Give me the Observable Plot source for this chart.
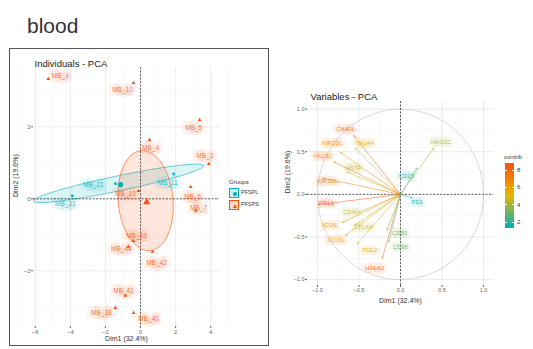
<!DOCTYPE html>
<html><head><meta charset="utf-8">
<script src="https://cdn.jsdelivr.net/npm/d3@7"></script>
<script src="https://cdn.jsdelivr.net/npm/@observablehq/plot@0.6"></script>
<style>
body{margin:0;background:#fff;font-family:"Liberation Sans",Arial,sans-serif;}
#page{position:relative;width:533px;height:349px;overflow:hidden;}
.abs{position:absolute;}
.sm{font-size:6px;color:#333;line-height:1;white-space:nowrap;}
</style></head><body><div id="page"></div>
<script>
// ---------- Individuals (left panel) ----------
const indNames = ["MB_9","MB_10","MB_5","MB_4","MB_3","MB_19","MB_6","MB_7","MB_43","MB_44","MB_42","MB_41","MB_38","MB_40","MB_21","MB_11","MB_31"];
const indGroup = ["PFSPS","PFSPS","PFSPS","PFSPS","PFSPS","PFSPS","PFSPS","PFSPS","PFSPS","PFSPS","PFSPS","PFSPS","PFSPS","PFSPS","PFSPL","PFSPL","PFSPL"];
const dim1 = [-5.26,-0.40,3.37,0.51,3.89,-0.11,2.86,3.14,-0.40,-0.69,0.69,-0.86,-1.43,-0.40,-1.43,1.89,-3.89];
const dim2 = [3.33,3.22,2.19,1.64,0.97,0.22,0.33,-0.33,-1.17,-1.33,-1.47,-2.69,-3.03,-3.17,0.42,0.69,0.08];
const lblX = [-4.57,-1.03,3.03,0.57,3.66,-0.86,2.97,3.31,-0.23,-1.09,0.91,-0.97,-2.23,0.46,-2.69,1.54,-4.29];
const lblY = [3.42,3.03,1.97,1.42,1.19,0.14,0.06,-0.25,-1.03,-1.39,-1.78,-2.56,-3.17,-3.33,0.39,0.44,-0.14];
const groups = ["PFSPL","PFSPS"];
const groupColors = ["#00AFBB","#FC4E07"];
const groupSymbols = ["circle","triangle"];
// concentration ellipses: centre, first and second semi-axis vectors (data units)
const ellGroup = ["PFSPL","PFSPS"];
const ellCx = [-1.25, 0.29];
const ellCy = [0.43, -0.05];
const ellAx = [4.85, -0.29];
const ellAy = [0.49, 1.39];
const ellBx = [-0.04, 1.55];
const ellBy = [0.21, 0.10];
const indXTicks = [-6,-4,-2,0,2,4];
const indYTicks = [-2,0,2];

// ---------- Variables (right panel) ----------
const varNames = ["OX40L","NKp44","KIR2DL","NKp30","VISTA","KIR3DL","PDL1","CD40","ICOS","CTLA4","ICOSL","PDL2","HHLA2","CD80","CD86","NKG2C","CD28","PD1"];
const varX = [-0.56,-0.54,-0.72,-0.80,-0.64,-0.93,-0.99,-0.50,-0.70,-0.55,-0.66,-0.52,-0.22,-0.16,-0.14,0.40,0.20,0.14];
const varY = [0.69,0.54,0.49,0.38,0.26,0.19,-0.12,-0.21,-0.33,-0.36,-0.48,-0.58,-0.75,-0.42,-0.56,0.54,0.31,-0.04];
const varContrib = [8.0,5.5,6.5,7.0,4.5,7.2,8.8,4.5,6.5,4.6,6.0,5.6,8.0,3.0,3.2,4.2,2.0,1.3];
const varLX = [-0.66,-0.43,-0.82,-0.94,-0.57,-0.88,-0.89,-0.60,-0.85,-0.45,-0.77,-0.37,-0.31,-0.01,0.00,0.49,0.07,0.20];
const varLY = [0.77,0.60,0.60,0.45,0.31,0.15,-0.10,-0.21,-0.36,-0.39,-0.54,-0.66,-0.87,-0.46,-0.62,0.61,0.21,-0.09];
const varTicks = [-1,-0.5,0,0.5,1];
const contribTicks = [2,4,6,8];
const gradCols = ["#00AFBB","#E7B800","#FC4E07"];

const font = "Liberation Sans, Arial, sans-serif";
const page = document.getElementById("page");
function addDiv(html, css, cls){const d=document.createElement("div");d.className="abs "+(cls||"");d.innerHTML=html;Object.assign(d.style,css);page.appendChild(d);return d;}

// title
addDiv("blood",{left:"27px",top:"15px",fontSize:"21px",lineHeight:"1",color:"#333"});
// left frame
addDiv("",{left:"9px",top:"48px",width:"258px",height:"296px",border:"1px solid #555"});

const ind = indNames.map((n,i)=>({name:n, group:indGroup[i], x:dim1[i], y:dim2[i], lx:lblX[i], ly:lblY[i]}));
const ell = [];
ellGroup.forEach((g,k)=>{
  for(let i=0;i<=90;i++){
    const t=i/90*2*Math.PI;
    ell.push({group:g, x:ellCx[k]+Math.cos(t)*ellAx[k]+Math.sin(t)*ellBx[k], y:ellCy[k]+Math.cos(t)*ellAy[k]+Math.sin(t)*ellBy[k]});
  }
});
const cent = groups.map(g=>{const p=ind.filter(d=>d.group===g);return {group:g,x:d3.mean(p,d=>d.x),y:d3.mean(p,d=>d.y)};});
const minorX = d3.range(-7,6,1).filter(v=>v%2!==0);
const minorY = [-3,-1,1,3];

const left = Plot.plot({
  width:258, height:296, marginLeft:23, marginRight:49, marginTop:18, marginBottom:19,
  style:{fontFamily:font, background:"transparent", overflow:"visible"},
  x:{domain:[-6.1,4.5], axis:null}, y:{domain:[-3.55,3.65], axis:null},
  color:{domain:groups, range:groupColors},
  symbol:{domain:groups, range:groupSymbols},
  marks:[
    Plot.gridX(minorX,{stroke:"#f3f3f3",strokeOpacity:1,strokeWidth:0.6}),
    Plot.gridY(minorY,{stroke:"#f3f3f3",strokeOpacity:1,strokeWidth:0.6}),
    Plot.gridX(indXTicks,{stroke:"#e6e6e6",strokeOpacity:1,strokeWidth:0.8}),
    Plot.gridY(indYTicks,{stroke:"#e6e6e6",strokeOpacity:1,strokeWidth:0.8}),
    Plot.line(ell,{x:"x",y:"y",z:"group",stroke:"group",fill:"group",fillOpacity:0.14,strokeWidth:0.7,strokeOpacity:0.85}),
    Plot.ruleX([0],{stroke:"#222",strokeDasharray:"2,1.5",strokeWidth:0.7}),
    Plot.ruleY([0],{stroke:"#222",strokeDasharray:"2,1.5",strokeWidth:0.7}),
    Plot.text(ind,{x:"lx",y:"ly",text:"name",fill:"group",fillOpacity:0.8,stroke:"group",strokeOpacity:0.08,strokeWidth:8,fontSize:6.5}),
    Plot.dot(ind,{x:"x",y:"y",fill:"group",symbol:"group",r:1.4}),
    Plot.dot(cent,{x:"x",y:"y",fill:"group",symbol:"group",r:2.6}),
    Plot.axisX(indXTicks,{tickSize:2,fontSize:6,color:"#666",label:null,tickPadding:1}),
    Plot.axisY(indYTicks,{tickSize:2,fontSize:6,color:"#666",label:null,tickPadding:1}),
    Plot.text(["Dim1 (32.4%)"],{frameAnchor:"bottom",dy:14,fontSize:7,fill:"#333"}),
    Plot.text(["Dim2 (19.6%)"],{frameAnchor:"left",dx:-18,rotate:-90,fontSize:7,fill:"#333"}),
    Plot.text(["Individuals - PCA"],{frameAnchor:"top-left",textAnchor:"start",dx:1,dy:-7,fontSize:9.5,fill:"#222"})
  ]
});
Object.assign(left.style,{position:"absolute",left:"10px",top:"49px"});
page.appendChild(left);

// left legend
addDiv("Groups",{left:"229px",top:"179px"},"sm");
groups.forEach((g,i)=>{
  const col=groupColors[i];
  const sym = i===0 ? `<span style="display:inline-block;width:4px;height:4px;border-radius:50%;background:${col};margin:3px"></span>`
                    : `<span style="display:inline-block;width:0;height:0;border-left:2.5px solid transparent;border-right:2.5px solid transparent;border-bottom:4.5px solid ${col};margin:2.5px 2.5px"></span>`;
  addDiv(sym,{left:"229px",top:(188+i*12)+"px",width:"10px",height:"10px",background:d3.color(col).copy({opacity:0.2}).toString(),border:"0.5px solid "+col,boxSizing:"border-box",lineHeight:"0"});
  addDiv(g,{left:"241px",top:(190+i*12)+"px",fontSize:"5.5px"},"sm");
});

// ---------- right panel ----------
const vars = varNames.map((n,i)=>({name:n,x:varX[i],y:varY[i],contrib:varContrib[i],lx:varLX[i],ly:varLY[i]}));
const circle = d3.range(0,101).map(i=>({x:Math.cos(i/100*2*Math.PI),y:Math.sin(i/100*2*Math.PI)}));
const cMin = d3.min(varContrib), cMax = d3.max(varContrib);
const colorDomain = [cMin,(cMin+cMax)/2,cMax];
const right = Plot.plot({
  width:253, height:225, marginLeft:27, marginRight:40, marginTop:16, marginBottom:25,
  style:{fontFamily:font, background:"transparent", overflow:"visible"},
  x:{domain:[-1.12,1.12], axis:null}, y:{domain:[-1.07,1.09], axis:null},
  color:{type:"linear", domain:colorDomain, range:gradCols},
  marks:[
    Plot.gridX([-0.75,-0.25,0.25,0.75],{stroke:"#f3f3f3",strokeOpacity:1,strokeWidth:0.6}),
    Plot.gridY([-0.75,-0.25,0.25,0.75],{stroke:"#f3f3f3",strokeOpacity:1,strokeWidth:0.6}),
    Plot.gridX(varTicks,{stroke:"#e6e6e6",strokeOpacity:1,strokeWidth:0.8}),
    Plot.gridY(varTicks,{stroke:"#e6e6e6",strokeOpacity:1,strokeWidth:0.8}),
    Plot.line(circle,{x:"x",y:"y",stroke:"#c8c8c8",strokeWidth:0.7}),
    Plot.ruleX([0],{stroke:"#222",strokeDasharray:"2,1.5",strokeWidth:0.7}),
    Plot.ruleY([0],{stroke:"#222",strokeDasharray:"2,1.5",strokeWidth:0.7}),
    Plot.arrow(vars,{x1:()=>0,y1:()=>0,x2:"x",y2:"y",stroke:"contrib",strokeWidth:0.6,strokeOpacity:0.85,headLength:3.5}),
    Plot.text(vars,{x:"lx",y:"ly",text:"name",fill:"contrib",fillOpacity:0.85,stroke:"contrib",strokeOpacity:0.08,strokeWidth:7,fontSize:6}),
    Plot.axisX(varTicks,{tickSize:2,fontSize:5.5,color:"#666",label:null,tickPadding:1,tickFormat:d3.format(".1f")}),
    Plot.axisY(varTicks,{tickSize:2,fontSize:5.5,color:"#666",label:null,tickPadding:1,tickFormat:d3.format(".1f")}),
    Plot.text(["Dim1 (32.4%)"],{frameAnchor:"bottom",dy:17,fontSize:7,fill:"#333"}),
    Plot.text(["Dim2 (19.6%)"],{frameAnchor:"left",dx:-20,rotate:-90,fontSize:7,fill:"#333"}),
    Plot.text(["Variables - PCA"],{frameAnchor:"top-left",textAnchor:"start",dx:3,dy:-8,fontSize:9.5,fill:"#222"})
  ]
});
Object.assign(right.style,{position:"absolute",left:"280px",top:"85px"});
page.appendChild(right);

// contrib colour bar legend
const cs = d3.scaleLinear().domain(colorDomain).range(gradCols);
const barTop=163, barH=65;
addDiv("contrib",{left:"504px",top:"154px"},"sm");
const stops = d3.range(0,11).map(i=>{const v=cMax-(cMax-cMin)*i/10;return cs(v)+" "+(i*10)+"%";}).join(",");
addDiv("",{left:"505px",top:barTop+"px",width:"9px",height:barH+"px",background:`linear-gradient(to bottom, ${stops})`});
contribTicks.forEach(v=>{
  const y = barTop + (cMax-v)/(cMax-cMin)*barH;
  addDiv("",{left:"505px",top:(y-0.25)+"px",width:"2px",height:"0.5px",background:"#fff"});
  addDiv("",{left:"512px",top:(y-0.25)+"px",width:"2px",height:"0.5px",background:"#fff"});
  addDiv(String(v),{left:"517px",top:(y-3)+"px"},"sm");
});
</script>
</body></html>
